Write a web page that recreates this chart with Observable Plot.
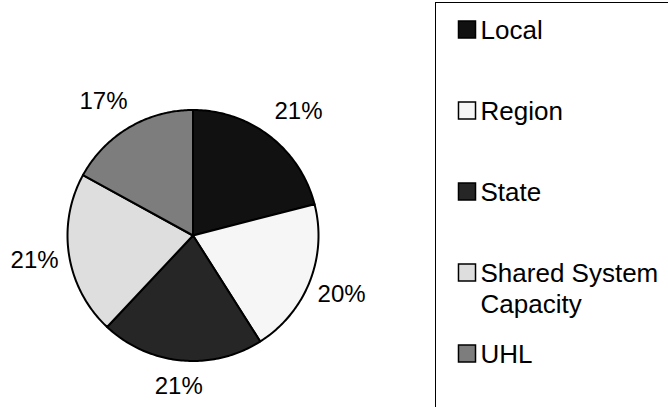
<!DOCTYPE html>
<html>
<head>
<meta charset="utf-8">
<script src="https://cdn.jsdelivr.net/npm/d3@7"></script>
<script src="https://cdn.jsdelivr.net/npm/@observablehq/plot@0.6"></script>
<style>
  html, body { margin: 0; padding: 0; background: #fff; overflow: hidden; }
  #wrap { position: relative; width: 668px; height: 407px; overflow: hidden; font-family: "Liberation Sans", Arial, sans-serif; }
  #pie { position: absolute; left: 0; top: 0; width: 436px; height: 407px; }
  #legend { position: absolute; left: 435px; top: 2px; width: 245px; height: 420px;
            border-left: 1.2px solid #000; border-top: 1.2px solid #000; }
  #wrap svg { max-width: none !important; display: block; }
</style>
</head>
<body>
<div id="wrap"><div id="pie"></div><div id="legend"></div></div>
<script>
// ---- data ----
const categories = ["Local", "Region", "State", "Shared System Capacity", "UHL"];
const values = [21, 20, 21, 21, 17];
const pctLabels = ["21%", "20%", "21%", "21%", "17%"];
const legendText = ["Local", "Region", "State", "Shared System\nCapacity", "UHL"];
const colors = ["#111111", "#f6f6f6", "#262626", "#dedede", "#7d7d7d"];

const FONT = "Liberation Sans, Arial, sans-serif";
const cx = 192.5, cy = 235, R = 125.5;

// slice geometry from the values (clockwise from 12 o'clock)
const arcs = d3.pie().sort(null).startAngle(0).endAngle(2 * Math.PI)(values);
const slicePts = [];
arcs.forEach((a, i) => {
  const cat = categories[i];
  slicePts.push({cat, x: 0, y: 0});
  const steps = 80;
  for (let k = 0; k <= steps; k++) {
    const t = a.startAngle + (a.endAngle - a.startAngle) * k / steps;
    slicePts.push({cat, x: Math.sin(t), y: Math.cos(t)});
  }
});
const labelData = arcs.map((a, i) => {
  const m = (a.startAngle + a.endAngle) / 2;
  const s = Math.sin(m), c = Math.cos(m);
  const dist = R + 25 + 10 * Math.abs(s);
  const push = 12 * Math.sign(s) * Math.max(0, c);
  return {text: pctLabels[i], x: (s * dist + push) / R, y: (c * dist) / R};
});

const pie = Plot.plot({
  width: 436, height: 407, margin: 0,
  x: {type: "linear", domain: [-1, 1], range: [cx - R, cx + R], axis: null},
  y: {type: "linear", domain: [-1, 1], range: [cy + R, cy - R], axis: null},
  color: {domain: categories, range: colors},
  style: {fontFamily: FONT, background: "transparent", overflow: "visible"},
  marks: [
    Plot.line(slicePts, {x: "x", y: "y", z: "cat", fill: "cat", stroke: "black",
      strokeWidth: 2, strokeLinejoin: "round", curve: "linear-closed"}),
    Plot.text(labelData, {x: "x", y: "y", text: "text", fontSize: 24, fill: "black",
      fontFamily: FONT})
  ]
});
document.getElementById("pie").appendChild(pie);

const legend = Plot.plot({
  width: 245, height: 420, margin: 0,
  x: {type: "linear", domain: [0, 1], range: [30.5, 230.5], axis: null},
  y: {type: "point", domain: categories, range: [26, 350], padding: 0, axis: null},
  color: {domain: categories, range: colors},
  style: {fontFamily: FONT, background: "transparent", overflow: "visible"},
  marks: [
    Plot.dot(categories, {x: () => 0, y: d => d, symbol: "square", r: 9.6,
      fill: d => d, stroke: "black", strokeWidth: 1.5}),
    Plot.text(categories, {x: () => 0, y: d => d, text: (d, i) => legendText[i],
      textAnchor: "start", lineAnchor: "top", lineHeight: 1.18, dx: 13.5, dy: -12,
      fontSize: 26, fill: "black", fontFamily: FONT})
  ]
});
document.getElementById("legend").appendChild(legend);
</script>
</body>
</html>
